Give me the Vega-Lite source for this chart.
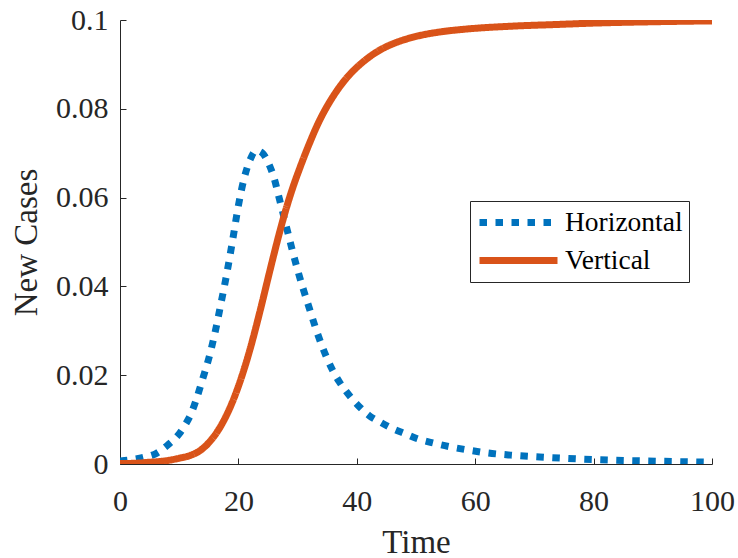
{
  "$schema": "https://vega.github.io/schema/vega-lite/v6.json",
  "width": 592,
  "height": 444,
  "autosize": {"type": "none"},
  "padding": {"left": 120, "top": 20, "right": 26, "bottom": 94},
  "background": "white",
  "config": {
    "view": {"stroke": null},
    "font": "Liberation Serif",
    "axis": {"labelFont": "Liberation Serif", "titleFont": "Liberation Serif"},
    "legend": {"labelFont": "Liberation Serif"}
  },
  "data": {
    "values": [
      {"t": 0, "v": 0.0007, "series": "Horizontal"},
      {"t": 2, "v": 0.001, "series": "Horizontal"},
      {"t": 4, "v": 0.0015, "series": "Horizontal"},
      {"t": 6, "v": 0.0023, "series": "Horizontal"},
      {"t": 8, "v": 0.0042, "series": "Horizontal"},
      {"t": 10, "v": 0.0068, "series": "Horizontal"},
      {"t": 11, "v": 0.0088, "series": "Horizontal"},
      {"t": 12, "v": 0.0113, "series": "Horizontal"},
      {"t": 13, "v": 0.015, "series": "Horizontal"},
      {"t": 14, "v": 0.0193, "series": "Horizontal"},
      {"t": 15, "v": 0.0238, "series": "Horizontal"},
      {"t": 16, "v": 0.0293, "series": "Horizontal"},
      {"t": 17, "v": 0.0358, "series": "Horizontal"},
      {"t": 18, "v": 0.0426, "series": "Horizontal"},
      {"t": 19, "v": 0.0502, "series": "Horizontal"},
      {"t": 20, "v": 0.0582, "series": "Horizontal"},
      {"t": 21, "v": 0.0645, "series": "Horizontal"},
      {"t": 22, "v": 0.0686, "series": "Horizontal"},
      {"t": 23, "v": 0.0706, "series": "Horizontal"},
      {"t": 24, "v": 0.0701, "series": "Horizontal"},
      {"t": 25, "v": 0.068, "series": "Horizontal"},
      {"t": 26, "v": 0.0645, "series": "Horizontal"},
      {"t": 27, "v": 0.0593, "series": "Horizontal"},
      {"t": 28, "v": 0.054, "series": "Horizontal"},
      {"t": 29, "v": 0.0487, "series": "Horizontal"},
      {"t": 30, "v": 0.0437, "series": "Horizontal"},
      {"t": 31, "v": 0.0392, "series": "Horizontal"},
      {"t": 32, "v": 0.035, "series": "Horizontal"},
      {"t": 33, "v": 0.0308, "series": "Horizontal"},
      {"t": 34, "v": 0.027, "series": "Horizontal"},
      {"t": 35, "v": 0.0237, "series": "Horizontal"},
      {"t": 36, "v": 0.0209, "series": "Horizontal"},
      {"t": 37, "v": 0.0186, "series": "Horizontal"},
      {"t": 38, "v": 0.0167, "series": "Horizontal"},
      {"t": 39, "v": 0.015, "series": "Horizontal"},
      {"t": 40, "v": 0.0135, "series": "Horizontal"},
      {"t": 42, "v": 0.011, "series": "Horizontal"},
      {"t": 44, "v": 0.0094, "series": "Horizontal"},
      {"t": 46, "v": 0.008, "series": "Horizontal"},
      {"t": 48, "v": 0.0069, "series": "Horizontal"},
      {"t": 50, "v": 0.0058, "series": "Horizontal"},
      {"t": 53, "v": 0.0047, "series": "Horizontal"},
      {"t": 56, "v": 0.0038, "series": "Horizontal"},
      {"t": 59, "v": 0.0031, "series": "Horizontal"},
      {"t": 62, "v": 0.0025, "series": "Horizontal"},
      {"t": 66, "v": 0.002, "series": "Horizontal"},
      {"t": 72, "v": 0.0015, "series": "Horizontal"},
      {"t": 78, "v": 0.0011, "series": "Horizontal"},
      {"t": 85, "v": 0.0008, "series": "Horizontal"},
      {"t": 92, "v": 0.0006, "series": "Horizontal"},
      {"t": 100, "v": 0.0004, "series": "Horizontal"},
      {"t": 0, "v": 0.0001, "series": "Vertical"},
      {"t": 3, "v": 0.0002, "series": "Vertical"},
      {"t": 5, "v": 0.0004, "series": "Vertical"},
      {"t": 7, "v": 0.0006, "series": "Vertical"},
      {"t": 10, "v": 0.0013, "series": "Vertical"},
      {"t": 12, "v": 0.002, "series": "Vertical"},
      {"t": 13.5, "v": 0.003, "series": "Vertical"},
      {"t": 15, "v": 0.0048, "series": "Vertical"},
      {"t": 17, "v": 0.0085, "series": "Vertical"},
      {"t": 19, "v": 0.014, "series": "Vertical"},
      {"t": 20, "v": 0.0175, "series": "Vertical"},
      {"t": 21, "v": 0.0215, "series": "Vertical"},
      {"t": 22, "v": 0.026, "series": "Vertical"},
      {"t": 23, "v": 0.031, "series": "Vertical"},
      {"t": 24, "v": 0.0363, "series": "Vertical"},
      {"t": 25, "v": 0.0418, "series": "Vertical"},
      {"t": 26, "v": 0.0472, "series": "Vertical"},
      {"t": 27, "v": 0.0524, "series": "Vertical"},
      {"t": 28, "v": 0.0572, "series": "Vertical"},
      {"t": 29, "v": 0.0615, "series": "Vertical"},
      {"t": 30.5, "v": 0.0671, "series": "Vertical"},
      {"t": 32, "v": 0.0722, "series": "Vertical"},
      {"t": 33.5, "v": 0.0768, "series": "Vertical"},
      {"t": 35, "v": 0.0806, "series": "Vertical"},
      {"t": 36.5, "v": 0.0838, "series": "Vertical"},
      {"t": 38, "v": 0.0865, "series": "Vertical"},
      {"t": 39.5, "v": 0.0887, "series": "Vertical"},
      {"t": 41, "v": 0.0905, "series": "Vertical"},
      {"t": 43, "v": 0.0925, "series": "Vertical"},
      {"t": 45, "v": 0.094, "series": "Vertical"},
      {"t": 47, "v": 0.0951, "series": "Vertical"},
      {"t": 50, "v": 0.0963, "series": "Vertical"},
      {"t": 54, "v": 0.0973, "series": "Vertical"},
      {"t": 58, "v": 0.0979, "series": "Vertical"},
      {"t": 66, "v": 0.0986, "series": "Vertical"},
      {"t": 74, "v": 0.099, "series": "Vertical"},
      {"t": 80, "v": 0.0993, "series": "Vertical"},
      {"t": 90, "v": 0.0996, "series": "Vertical"},
      {"t": 100, "v": 0.0998, "series": "Vertical"}
    ]
  },
  "mark": {"type": "line", "strokeWidth": 7, "interpolate": "monotone", "strokeCap": "butt", "clip": true},
  "encoding": {
    "x": {
      "field": "t",
      "type": "quantitative",
      "scale": {"domain": [0, 100], "nice": false, "zero": false},
      "axis": {
        "title": "Time",
        "values": [0, 20, 40, 60, 80, 100],
        "tickSize": -6,
        "labelPadding": 28,
        "labelFontSize": 30,
        "labelFont": "Liberation Serif",
        "labelFlush": false,
        "labelOverlap": false,
        "labelBound": false,
        "titleFontSize": 33,
        "titleFontWeight": "normal",
        "titlePadding": 10,
        "domainColor": "#262626",
        "tickColor": "#262626",
        "labelColor": "#262626",
        "titleColor": "#262626",
        "grid": false
      }
    },
    "y": {
      "field": "v",
      "type": "quantitative",
      "scale": {"domain": [0, 0.1], "nice": false},
      "axis": {
        "title": "New Cases",
        "values": [0, 0.02, 0.04, 0.06, 0.08, 0.1],
        "format": "~g",
        "tickSize": -6,
        "labelPadding": 18,
        "labelFontSize": 30,
        "labelFont": "Liberation Serif",
        "labelFlush": false,
        "labelOverlap": false,
        "labelBound": false,
        "titleFontSize": 33,
        "titleFontWeight": "normal",
        "titlePadding": 12,
        "domainColor": "#262626",
        "tickColor": "#262626",
        "labelColor": "#262626",
        "titleColor": "#262626",
        "grid": false
      }
    },
    "color": {
      "field": "series",
      "type": "nominal",
      "scale": {"domain": ["Horizontal", "Vertical"], "range": ["#0072BD", "#D95319"]},
      "legend": {
        "title": null,
        "orient": "none",
        "legendX": 350,
        "legendY": 181,
        "symbolType": "stroke",
        "symbolSize": 6084,
        "symbolStrokeWidth": 7,
        "clipHeight": 31,
        "rowPadding": 7,
        "padding": 6,
        "labelOffset": 4,
        "labelFont": "Liberation Serif",
        "labelFontSize": 27.5,
        "labelColor": "black",
        "labelLimit": 400,
        "strokeColor": "#262626",
        "fillColor": "white"
      }
    },
    "strokeDash": {
      "field": "series",
      "type": "nominal",
      "scale": {"domain": ["Horizontal", "Vertical"], "range": [[7.5, 8.5], [1, 0]]},
      "legend": {
        "title": null,
        "orient": "none",
        "legendX": 350,
        "legendY": 181,
        "symbolType": "stroke",
        "symbolSize": 6084,
        "symbolStrokeWidth": 7,
        "clipHeight": 31,
        "rowPadding": 7,
        "padding": 6,
        "labelOffset": 4,
        "labelFont": "Liberation Serif",
        "labelFontSize": 27.5,
        "labelColor": "black",
        "labelLimit": 400,
        "strokeColor": "#262626",
        "fillColor": "white"
      }
    }
  }
}
